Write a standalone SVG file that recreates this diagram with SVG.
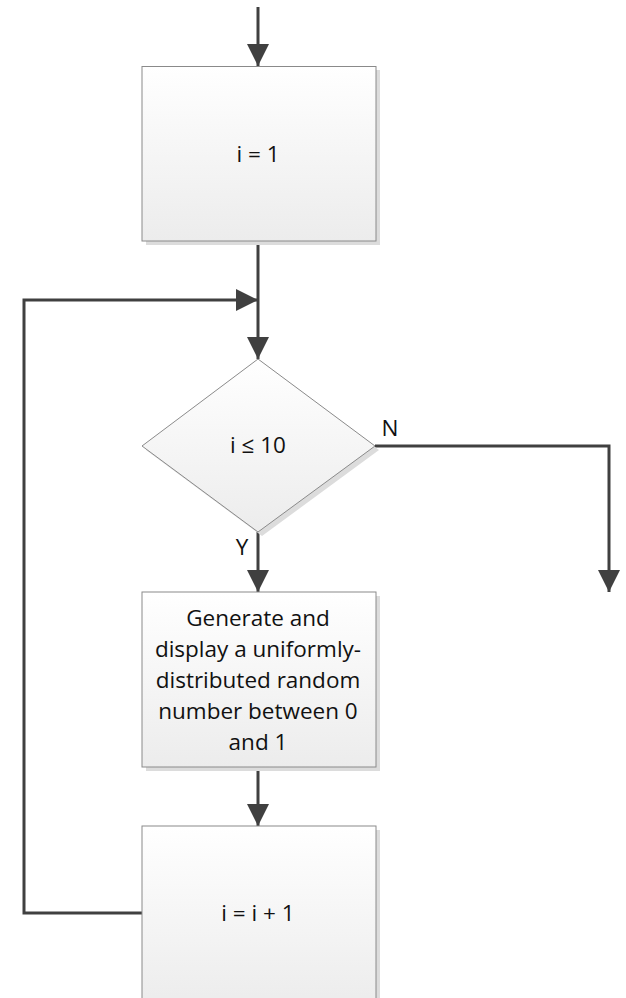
<svg xmlns="http://www.w3.org/2000/svg" width="626" height="998" viewBox="0 0 626 998">
  <defs>
    <linearGradient id="fill" x1="0" y1="0" x2="0" y2="1">
      <stop offset="0" stop-color="#ffffff"/>
      <stop offset="1" stop-color="#ececec"/>
    </linearGradient>
    <marker id="arrow" viewBox="0 0 22 22" refX="22" refY="11" markerWidth="22" markerHeight="22" markerUnits="userSpaceOnUse" orient="auto">
      <path d="M0,0 L22,11 L0,22 Z" fill="#404040"/>
    </marker>
    <style>
      .shape { fill: url(#fill); stroke: #8a8a8a; stroke-width: 1; }
      .shadow { fill: #dcdcdc; }
      .label { font-family: "Open Sans", "Liberation Sans", sans-serif; font-size: 22.5px; fill: #111; text-anchor: middle; }
      .wire { fill: none; stroke: #404040; stroke-width: 3; }
    </style>
  </defs>

  <g id="connectors">
    <line class="wire" x1="258" y1="7" x2="258" y2="66" marker-end="url(#arrow)"/>
    <line class="wire" x1="258" y1="241" x2="258" y2="359" marker-end="url(#arrow)"/>
    <polyline class="wire" points="142,913 24,913 24,300 258,300" marker-end="url(#arrow)"/>
    <polyline class="wire" points="375,446 609,446 609,592" marker-end="url(#arrow)"/>
    <line class="wire" x1="258" y1="532" x2="258" y2="592" marker-end="url(#arrow)"/>
    <line class="wire" x1="258" y1="767" x2="258" y2="826" marker-end="url(#arrow)"/>
    <text class="label" x="390" y="436">N</text>
    <text class="label" x="242" y="555">Y</text>
  </g>

  <g id="init">
    <rect class="shadow" x="146" y="70" width="234" height="175"/>
    <rect class="shape" x="142" y="66.5" width="234" height="174.5"/>
    <text class="label" x="258" y="162">i = 1</text>
  </g>

  <g id="test">
    <polygon class="shadow" points="262,363 379,450 262,536 146,450"/>
    <polygon class="shape" points="258,359 375,446 258,532 142,446"/>
    <text class="label" x="258" y="453">i ≤ 10</text>
  </g>

  <g id="generate">
    <rect class="shadow" x="146" y="596" width="234" height="175"/>
    <rect class="shape" x="142" y="592" width="234" height="175"/>
    <text class="label" x="258" y="626">Generate and</text>
    <text class="label" x="258" y="657">display a uniformly-</text>
    <text class="label" x="258" y="688">distributed random</text>
    <text class="label" x="258" y="719">number between 0</text>
    <text class="label" x="258" y="750">and 1</text>
  </g>

  <g id="increment">
    <rect class="shadow" x="146" y="830" width="234" height="180"/>
    <rect class="shape" x="142" y="826" width="234" height="180"/>
    <text class="label" x="258" y="921">i = i + 1</text>
  </g>
</svg>
